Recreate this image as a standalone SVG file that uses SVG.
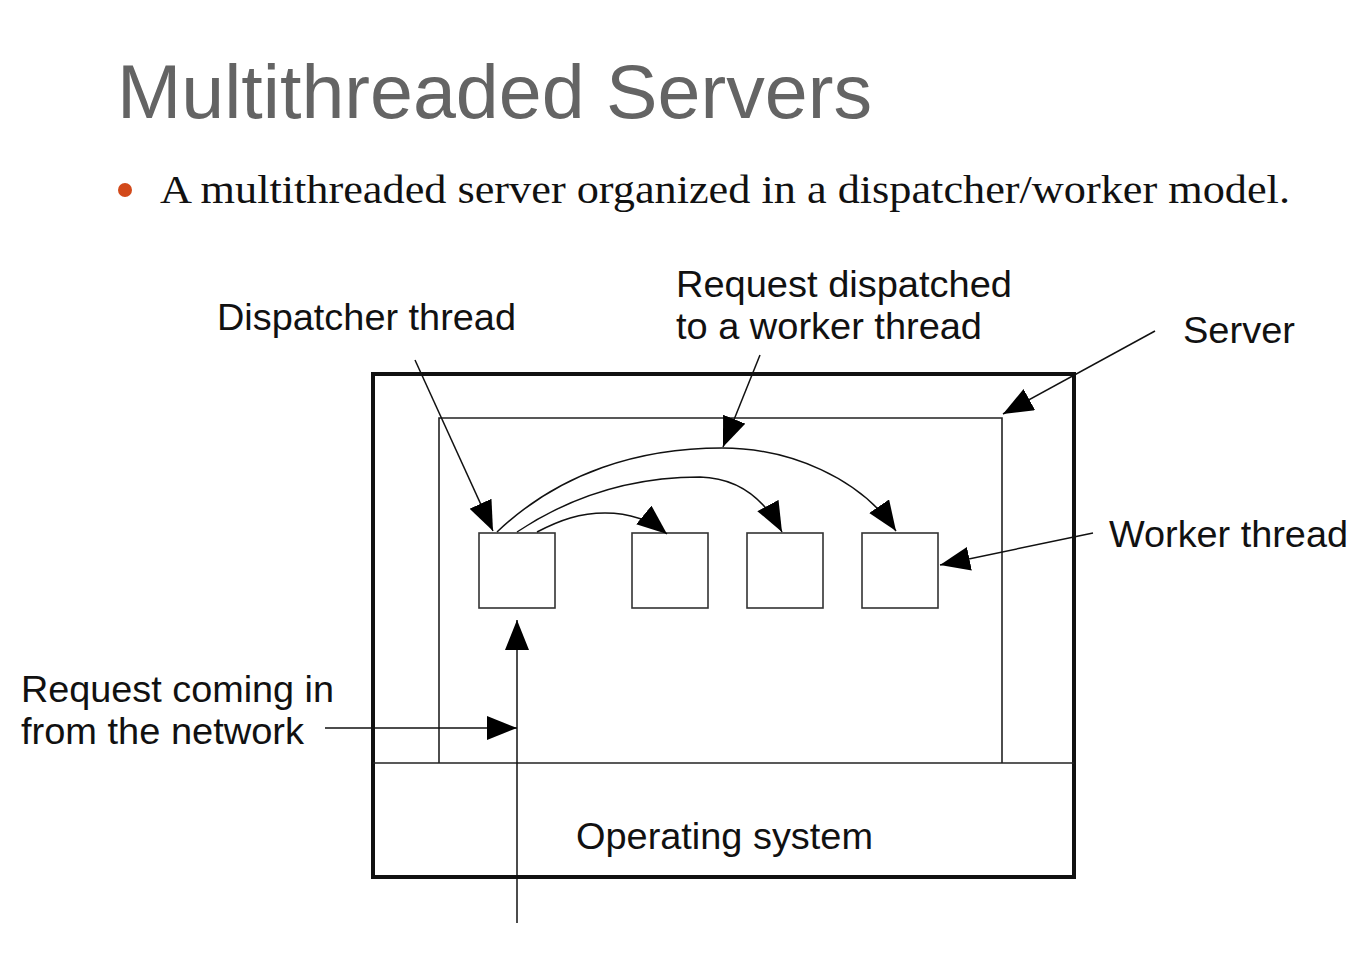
<svg xmlns="http://www.w3.org/2000/svg" width="1367" height="966" viewBox="0 0 1367 966">
<style>
.lbl{font-family:"Liberation Sans",Arial,sans-serif;font-size:37px;fill:#111}
.thin{fill:none;stroke:#222;stroke-width:1.6}
.box{fill:#fff;stroke:#333;stroke-width:1.6}
.con{fill:none;stroke:#111;stroke-width:1.5;marker-end:url(#ah)}
</style>
<defs>
<marker id="ah" markerUnits="userSpaceOnUse" markerWidth="32" markerHeight="26" refX="30" refY="12" orient="auto">
<path d="M0,0 L30,12 L0,24 Z" fill="#000"/>
</marker>
</defs>
<rect width="1367" height="966" fill="#fff"/>
<g id="title">
<text x="117" y="118" font-family="Liberation Sans,Arial,sans-serif" font-size="76" fill="#646464" textLength="755" lengthAdjust="spacingAndGlyphs">Multithreaded Servers</text>
</g>
<g id="bullet">
<circle cx="125" cy="190" r="7" fill="#d2491a"/>
<text x="160" y="203" font-family="Liberation Serif,Times New Roman,serif" font-size="41" fill="#111" textLength="1130" lengthAdjust="spacingAndGlyphs">A multithreaded server organized in a dispatcher/worker model.</text>
</g>
<g id="server">
<rect x="373" y="374" width="701" height="503" fill="none" stroke="#111" stroke-width="4"/>
<line x1="373" y1="763" x2="1074" y2="763" class="thin"/>
<polyline points="439,763 439,418 1002,418 1002,763" class="thin"/>
</g>
<g id="dispatcher"><rect x="479" y="533" width="76" height="75" class="box"/></g>
<g id="worker1"><rect x="632" y="533" width="76" height="75" class="box"/></g>
<g id="worker2"><rect x="747" y="533" width="76" height="75" class="box"/></g>
<g id="worker3"><rect x="862" y="533" width="76" height="75" class="box"/></g>
<g id="labels">
<text class="lbl" x="217" y="330" textLength="299" lengthAdjust="spacingAndGlyphs">Dispatcher thread</text>
<text class="lbl" x="676" y="297" textLength="336" lengthAdjust="spacingAndGlyphs">Request dispatched</text>
<text class="lbl" x="676" y="339" textLength="306" lengthAdjust="spacingAndGlyphs">to a worker thread</text>
<text class="lbl" x="1183" y="343" textLength="112" lengthAdjust="spacingAndGlyphs">Server</text>
<text class="lbl" x="1109" y="547" textLength="239" lengthAdjust="spacingAndGlyphs">Worker thread</text>
<text class="lbl" x="21" y="702" textLength="313" lengthAdjust="spacingAndGlyphs">Request coming in</text>
<text class="lbl" x="21" y="744" textLength="283" lengthAdjust="spacingAndGlyphs">from the network</text>
<text class="lbl" x="576" y="849" textLength="297" lengthAdjust="spacingAndGlyphs">Operating system</text>
</g>
<g id="connectors">
<path class="con" d="M415,360 L493,531"/>
<path class="con" d="M760,355 L723,447"/>
<path class="con" d="M1155,331 L1003,414"/>
<path class="con" d="M1093,533 L940,565"/>
<path class="con" d="M325,728 L517,728"/>
<path class="con" d="M517,923 L517,620"/>
<path class="con" d="M497,532 C560,472 640,448 722,448 C790,448 860,478 896,531"/>
<path class="con" d="M517,532 C565,500 625,477 700,477 C740,478 765,500 782,532"/>
<path class="con" d="M537,532 C560,520 580,513 605,513 C630,513 650,520 667,534"/>
</g>
</svg>
